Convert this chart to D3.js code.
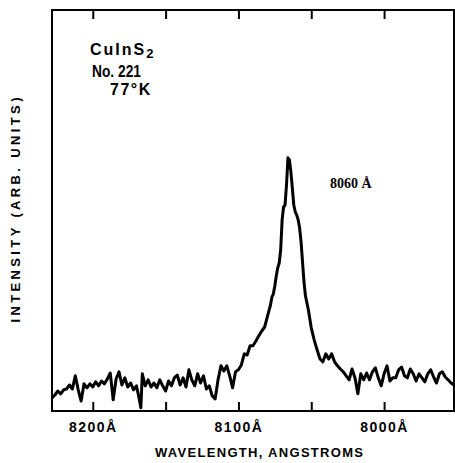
<!DOCTYPE html>
<html>
<head>
<meta charset="utf-8">
<script src="https://cdn.jsdelivr.net/npm/d3@7"></script>
<style>
  body { margin: 0; background: #fff; }
</style>
</head>
<body>
<script>
// wavelength (angstrom) and intensity (arb. units)
var wavelength = [8228, 8226, 8224, 8222, 8220, 8218, 8216, 8214, 8212, 8210,
  8208, 8206, 8204, 8202, 8200, 8198, 8196, 8194, 8192, 8190,
  8188, 8186, 8184, 8182, 8180, 8178, 8176, 8174, 8172, 8170,
  8168, 8167, 8166, 8164, 8162, 8160, 8158, 8156, 8154, 8152,
  8150, 8148, 8146, 8144, 8142, 8140, 8138, 8136, 8134, 8132,
  8130, 8128, 8126, 8124, 8122, 8120, 8118, 8116, 8114, 8112,
  8110, 8108, 8106, 8104, 8102, 8100, 8098, 8096, 8094, 8092,
  8090, 8088, 8086, 8084, 8082, 8080, 8078, 8077, 8076, 8075,
  8074, 8073, 8072, 8071, 8070, 8069, 8068, 8067, 8066, 8065,
  8064, 8063, 8062, 8061, 8060, 8059, 8058, 8057, 8056, 8055,
  8054, 8052, 8050, 8048, 8046, 8044, 8042, 8040, 8038, 8036,
  8034, 8032, 8030, 8028, 8026, 8024, 8022, 8020, 8018, 8016,
  8014, 8012, 8010, 8008, 8006, 8004, 8002, 8000, 7998, 7996,
  7994, 7992, 7990, 7988, 7986, 7984, 7982, 7980, 7978, 7976,
  7974, 7972, 7970, 7968, 7966, 7964, 7962, 7960, 7958, 7956,
  7954, 7952];
var intensity = [3.3, 4.0, 5.0, 4.3, 5.3, 5.5, 6.5, 5.5, 8.8, 5.3,
  2.5, 6.8, 5.8, 6.8, 6.0, 7.3, 6.3, 7.5, 6.8, 8.0,
  9.5, 2.8, 8.0, 9.8, 6.5, 8.3, 6.0, 7.0, 5.3, 6.3,
  2.8, 0.8, 9.3, 6.3, 7.8, 6.0, 7.0, 5.8, 7.8, 6.3,
  5.0, 7.5, 6.3, 8.3, 9.0, 6.5, 8.3, 6.0, 10.3, 7.8,
  6.3, 9.3, 7.0, 8.8, 5.5, 6.3, 3.8, 3.0, 7.8, 11.3,
  10.0, 11.3, 8.8, 5.8, 9.8, 10.3, 11.5, 14.3, 14.0, 16.3,
  16.3, 17.5, 18.8, 20.0, 21.0, 23.8, 26.5, 28.5, 29.3, 31.3,
  33.8, 35.8, 37.0, 40.3, 47.8, 51.0, 51.5, 56.5, 63.3, 62.8,
  59.8, 55.8, 51.5, 49.8, 49.0, 47.8, 45.8, 42.3, 37.3, 32.3,
  28.8, 25.3, 20.8, 17.8, 15.3, 13.0, 12.3, 14.3, 13.0, 14.3,
  12.3, 11.3, 10.5, 9.8, 8.8, 7.8, 10.5, 8.3, 4.3, 9.3,
  7.8, 9.5, 7.8, 9.8, 10.8, 8.3, 6.3, 9.3, 11.3, 7.5,
  8.3, 8.3, 10.3, 11.0, 8.8, 8.3, 10.5, 9.3, 7.5, 9.3,
  8.3, 7.3, 9.3, 10.3, 8.5, 7.0, 9.3, 9.8, 8.5, 7.8,
  7.0, 6.5];

var minorTicks = [8200, 8150, 8100, 8050, 8000];
var labelTicks = [8200, 8100, 8000];

var w = 455,
    h = 463;
var padL = 52, padR = 454, padT = 10, padB = 411;
var sans = "Liberation Sans, Arial, sans-serif";

var svg = d3.select("body")
  .append("svg")
  .attr("width", w)
  .attr("height", h);

var xScale = d3.scaleLinear()
  .domain([8228, 7952])
  .range([padL, padR]);

var yScale = d3.scaleLinear()
  .domain([0, 100])
  .range([padB, padB - 400]);

// frame
svg.append("rect")
  .attr("x", padL)
  .attr("y", padT)
  .attr("width", padR - padL)
  .attr("height", padB - padT)
  .attr("fill", "none")
  .attr("stroke", "#000")
  .attr("stroke-width", 2);

var xAxis = d3.axisBottom(xScale)
  .tickValues(minorTicks)
  .tickSizeInner(-9)
  .tickSizeOuter(0)
  .tickFormat(function(d) { return labelTicks.indexOf(d) >= 0 ? d + "Å" : ""; });

var gx = svg.append("g")
  .attr("transform", "translate(0," + padB + ")")
  .call(xAxis);
gx.select(".domain").remove();
gx.selectAll("line").attr("stroke", "#000").attr("stroke-width", 2);
gx.selectAll("text")
  .attr("y", 21)
  .attr("dy", null)
  .attr("fill", "#000")
  .attr("font-size", 14)
  .attr("font-weight", "bold")
  .attr("font-family", sans)
  .attr("letter-spacing", 1.5);

var xTop = d3.axisTop(xScale)
  .tickValues(minorTicks)
  .tickSizeInner(-9)
  .tickSizeOuter(0)
  .tickFormat("");

var gt = svg.append("g")
  .attr("transform", "translate(0," + padT + ")")
  .call(xTop);
gt.select(".domain").remove();
gt.selectAll("line").attr("stroke", "#000").attr("stroke-width", 2);

// spectrum
var line = d3.line()
  .x(function(d, i) { return xScale(wavelength[i]); })
  .y(function(d) { return yScale(d); });

svg.append("path")
  .datum(intensity)
  .attr("d", line)
  .attr("fill", "none")
  .attr("stroke", "#000")
  .attr("stroke-width", 3)
  .attr("stroke-linejoin", "round");

// axis titles
svg.append("text")
  .attr("x", 259)
  .attr("y", 457)
  .attr("text-anchor", "middle")
  .attr("font-family", sans)
  .attr("font-size", 13)
  .attr("font-weight", "bold")
  .attr("textLength", 208)
  .attr("lengthAdjust", "spacing")
  .text("WAVELENGTH, ANGSTROMS");

svg.append("text")
  .attr("transform", "translate(20,210) rotate(-90)")
  .attr("text-anchor", "middle")
  .attr("font-family", sans)
  .attr("font-size", 13)
  .attr("font-weight", "bold")
  .attr("textLength", 225)
  .attr("lengthAdjust", "spacing")
  .text("INTENSITY (ARB. UNITS)");

// sample notes
var note = svg.append("text")
  .attr("x", 90)
  .attr("y", 55)
  .attr("font-family", sans)
  .attr("font-size", 16)
  .attr("font-weight", "bold");
note.append("tspan").attr("letter-spacing", 2).text("CuInS");
note.append("tspan").attr("dy", 3).attr("font-size", 13).text("2");

svg.append("text")
  .attr("x", 92)
  .attr("y", 77)
  .attr("font-family", sans)
  .attr("font-size", 16)
  .attr("font-weight", "bold")
  .attr("textLength", 49)
  .attr("lengthAdjust", "spacingAndGlyphs")
  .text("No. 221");

svg.append("text")
  .attr("x", 110)
  .attr("y", 95)
  .attr("font-family", sans)
  .attr("font-size", 16)
  .attr("font-weight", "bold")
  .attr("letter-spacing", 1.5)
  .text("77°K");

svg.append("text")
  .attr("x", 330)
  .attr("y", 188)
  .attr("font-family", "Liberation Serif, Times New Roman, serif")
  .attr("font-size", 14)
  .attr("font-weight", "bold")
  .text("8060 Å");
</script>
</body>
</html>
